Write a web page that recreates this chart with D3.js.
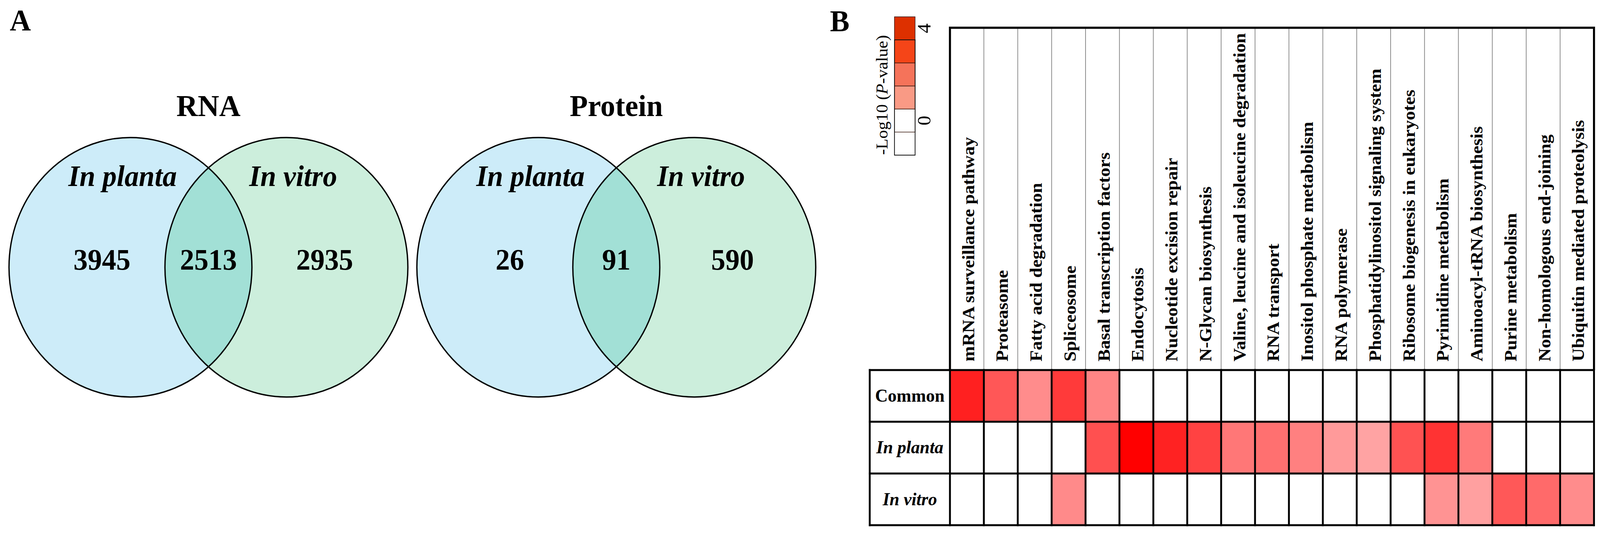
<!DOCTYPE html>
<html>
<head>
<meta charset="utf-8">
<script src="https://cdn.jsdelivr.net/npm/d3@7"></script>
<style>
  html, body { margin: 0; padding: 0; background: #fff; overflow: hidden; width: 100%; height: 100%; }
  #chart { width: 100vw; height: 100vh; }
  svg { display: block; width: 100%; height: 100%; }
</style>
</head>
<body>
<div id="chart"></div>
<script>
// Panel A: Venn counts (in planta only, shared, in vitro only)
const vennTitles = ['RNA', 'Protein'];
const vennSets = ['In planta', 'In vitro'];
const rnaCounts = [3945, 2513, 2935];
const proteinCounts = [26, 91, 590];

// Panel B: enriched KEGG pathways, -log10(P-value)
const pathways = [
    'mRNA surveillance pathway', 'Proteasome', 'Fatty acid degradation', 'Spliceosome',
    'Basal transcription factors', 'Endocytosis', 'Nucleotide excision repair',
    'N-Glycan biosynthesis', 'Valine, leucine and isoleucine degradation', 'RNA transport',
    'Inositol phosphate metabolism', 'RNA polymerase', 'Phosphatidylinositol signaling system',
    'Ribosome biogenesis in eukaryotes', 'Pyrimidine metabolism', 'Aminoacyl-tRNA biosynthesis',
    'Purine metabolism', 'Non-homologous end-joining', 'Ubiquitin mediated proteolysis'
];
const groups = ['Common', 'In planta', 'In vitro'];
const commonValues = [3.5, 2.64, 1.8, 3.09, 1.91, 0, 0, 0, 0, 0, 0, 0, 0, 0, 0, 0, 0, 0, 0];
const plantaValues = [0, 0, 0, 0, 2.75, 4.0, 3.47, 2.96, 2.13, 2.24, 1.99, 1.58, 1.44, 2.71, 3.2, 2.09, 0, 0, 0];
const vitroValues = [0, 0, 0, 1.84, 0, 0, 0, 0, 0, 0, 0, 0, 0, 0, 1.69, 1.49, 2.62, 2.34, 1.8];
const legendTicks = [0, 4];

// drawn in the reference's 4268x1364 frame, stretched to whatever the window gives
const W = 4268, H = 1364;
const serif = "'Liberation Serif', 'Times New Roman', serif";

const svg = d3.select('#chart')
    .append('svg')
    .attr('viewBox', `0 0 ${W} ${H}`)
    .attr('preserveAspectRatio', 'none')
    .style('font-family', serif);

// ---------- panel letters
svg.append('text').attr('x', 26).attr('y', 78)
    .attr('font-size', 78).attr('font-weight', 700).text('A');
svg.append('text').attr('x', 2214).attr('y', 80)
    .attr('font-size', 78).attr('font-weight', 700).text('B');

// ---------- Venn diagrams
const vennX = d3.scaleBand().domain(vennTitles).range([12, 2188]);
const half = 208, rx = 324, ry = 332, cy = 684;
const setFill = ['#cdecf9', '#cceedc'];
const bothFill = '#a2e0d6';
const countsBy = { RNA: rnaCounts, Protein: proteinCounts };

const defs = svg.append('defs');

vennTitles.forEach((title, k) => {
    const mid = vennX(title) + vennX.bandwidth() / 2;
    const cx = [mid - half, mid + half];
    const g = svg.append('g');

    defs.append('clipPath').attr('id', 'clip-' + k)
        .append('ellipse').attr('cx', cx[0]).attr('cy', cy).attr('rx', rx).attr('ry', ry);

    g.selectAll('ellipse.fill')
        .data(vennSets)
        .join('ellipse')
        .attr('class', 'fill')
        .attr('cx', (d, i) => cx[i]).attr('cy', cy)
        .attr('rx', rx).attr('ry', ry)
        .attr('fill', (d, i) => setFill[i]);

    // shared area
    g.append('ellipse')
        .attr('cx', cx[1]).attr('cy', cy).attr('rx', rx).attr('ry', ry)
        .attr('clip-path', `url(#clip-${k})`)
        .attr('fill', bothFill);

    g.selectAll('ellipse.edge')
        .data(vennSets)
        .join('ellipse')
        .attr('class', 'edge')
        .attr('cx', (d, i) => cx[i]).attr('cy', cy)
        .attr('rx', rx).attr('ry', ry)
        .attr('fill', 'none')
        .attr('stroke', '#000')
        .attr('stroke-width', 3.5);

    g.append('text')
        .attr('x', mid).attr('y', 297)
        .attr('text-anchor', 'middle')
        .attr('font-size', 79).attr('font-weight', 700)
        .text(title);

    const labelDx = [-229, 226];
    g.selectAll('text.set')
        .data(vennSets)
        .join('text')
        .attr('class', 'set')
        .attr('x', (d, i) => mid + labelDx[i]).attr('y', 476)
        .attr('text-anchor', 'middle')
        .attr('font-size', 76).attr('font-weight', 700).attr('font-style', 'italic')
        .text(d => d);

    const numDx = [-284, 0, 310];
    g.selectAll('text.count')
        .data(countsBy[title])
        .join('text')
        .attr('class', 'count')
        .attr('x', (d, i) => mid + numDx[i]).attr('y', 690)
        .attr('text-anchor', 'middle')
        .attr('font-size', 76).attr('font-weight', 700)
        .text(d => d);
});

// ---------- heatmap
const colX = d3.scaleBand().domain(pathways).range([2534, 4252]);
const rowY = d3.scaleBand().domain(groups).range([947, 1344]);
const headTop = 71, rowLeft = 2320;
const color = d3.scaleLinear().domain([0, 4]).range(['#ffffff', '#ff0000']).clamp(true);

const valueRows = [commonValues, plantaValues, vitroValues];
const cells = groups.flatMap((g, i) => pathways.map((p, j) => ({ g, p, v: valueRows[i][j] })));

const hm = svg.append('g');

hm.selectAll('rect.cell')
    .data(cells)
    .join('rect')
    .attr('class', 'cell')
    .attr('x', d => colX(d.p))
    .attr('y', d => rowY(d.g))
    .attr('width', colX.bandwidth())
    .attr('height', rowY.bandwidth())
    .attr('fill', d => d.v > 0 ? color(d.v) : '#fff');

// header separators (thin grey)
hm.selectAll('line.hsep')
    .data(pathways.slice(1))
    .join('line')
    .attr('class', 'hsep')
    .attr('x1', d => colX(d)).attr('x2', d => colX(d))
    .attr('y1', headTop).attr('y2', rowY(groups[0]))
    .attr('stroke', '#8a8a8a').attr('stroke-width', 2);

// column labels
hm.selectAll('text.path')
    .data(pathways)
    .join('text')
    .attr('class', 'path')
    .attr('transform', d => `translate(${colX(d) + colX.bandwidth() / 2 + 19},925) rotate(-90)`)
    .attr('font-size', 47)
    .attr('font-weight', 700)
    .text(d => d);

// body grid (thick black)
const gridV = [rowLeft, ...pathways.map(p => colX(p)), colX.range()[1]];
hm.selectAll('line.gv')
    .data(gridV)
    .join('line')
    .attr('class', 'gv')
    .attr('x1', d => d).attr('x2', d => d)
    .attr('y1', rowY(groups[0])).attr('y2', rowY.range()[1])
    .attr('stroke', '#000').attr('stroke-width', 5).attr('stroke-linecap', 'square');

const gridH = [...groups.map(g => rowY(g)), rowY.range()[1]];
hm.selectAll('line.gh')
    .data(gridH)
    .join('line')
    .attr('class', 'gh')
    .attr('x1', rowLeft).attr('x2', colX.range()[1])
    .attr('y1', d => d).attr('y2', d => d)
    .attr('stroke', '#000').attr('stroke-width', 5).attr('stroke-linecap', 'square');

// header frame
hm.append('path')
    .attr('d', `M${colX.range()[0]},${rowY(groups[0])}V${headTop}H${colX.range()[1]}V${rowY(groups[0])}`)
    .attr('fill', 'none').attr('stroke', '#000').attr('stroke-width', 5.5)
    .attr('stroke-linejoin', 'miter');

// row labels
hm.selectAll('text.row')
    .data(groups)
    .join('text')
    .attr('class', 'row')
    .attr('x', (rowLeft + colX.range()[0]) / 2)
    .attr('y', d => rowY(d) + rowY.bandwidth() / 2 + 15)
    .attr('text-anchor', 'middle')
    .attr('font-size', 47).attr('font-weight', 700)
    .attr('font-style', d => d === 'Common' ? 'normal' : 'italic')
    .text(d => d);

// ---------- legend
const legendColors = ['#ffffff', '#f99a85', '#f5735a', '#f54518', '#dd3000'];
const legY = d3.scaleBand().domain(d3.range(legendColors.length)).range([397, 102]);
const leg = svg.append('g');
const legX = 2386, legW = 55;

leg.selectAll('rect')
    .data(legendColors)
    .join('rect')
    .attr('x', legX)
    .attr('y', (d, i) => legY(i) - legY.bandwidth())
    .attr('width', legW)
    .attr('height', legY.bandwidth())
    .attr('fill', d => d)
    .attr('stroke', '#3a1a10').attr('stroke-width', 1.5);

leg.append('rect')
    .attr('x', legX).attr('y', 102).attr('width', legW).attr('height', 295)
    .attr('fill', 'none').attr('stroke', '#111').attr('stroke-width', 2);

const tickY = d3.scaleLinear().domain([0, 4]).range([legY(0) - legY.bandwidth() / 2, legY(4) - legY.bandwidth() / 2]);
leg.selectAll('text.tick')
    .data(legendTicks)
    .join('text')
    .attr('class', 'tick')
    .attr('transform', d => `translate(2482,${tickY(d)}) rotate(-90)`)
    .attr('text-anchor', 'middle')
    .attr('font-size', 50)
    .text(d => d);

const lt = leg.append('text')
    .attr('transform', 'translate(2367,243) rotate(-90)')
    .attr('text-anchor', 'middle')
    .attr('font-size', 44);
lt.append('tspan').text('-Log10 (');
lt.append('tspan').attr('font-style', 'italic').text('P');
lt.append('tspan').text('-value)');
</script>
</body>
</html>
